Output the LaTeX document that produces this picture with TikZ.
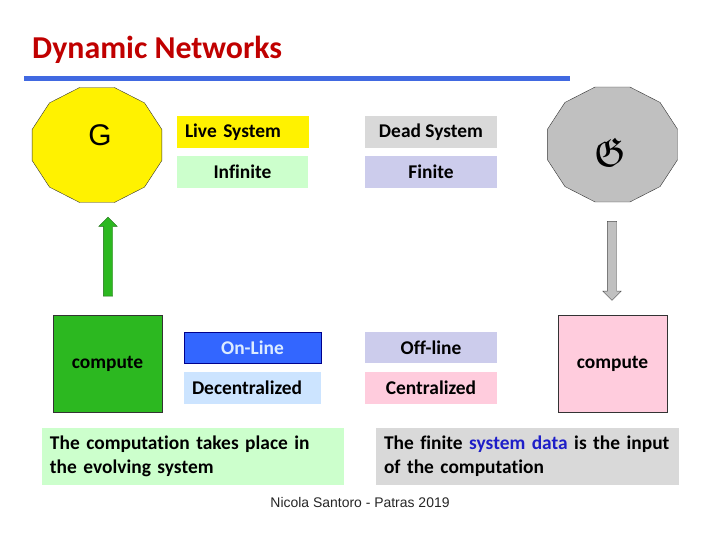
\documentclass[tikz,border=0pt]{standalone}
\usepackage{amssymb}
\usepackage{fontspec}
\setmainfont{Carlito}[Ligatures=NoCommon]
\newfontfamily\arialfont{Liberation Sans}
\usetikzlibrary{shapes.geometric,shapes.arrows}

\definecolor{titlered}{RGB}{192,0,0}
\definecolor{barblue}{RGB}{65,105,225}
\definecolor{polygray}{RGB}{192,192,192}
\definecolor{compgreen}{RGB}{44,184,32}
\definecolor{darkgreen}{RGB}{30,110,20}
\definecolor{lightgreen}{RGB}{204,255,204}
\definecolor{lavender}{RGB}{204,204,236}
\definecolor{lightgray}{RGB}{217,217,217}
\definecolor{lightpink}{RGB}{255,204,221}
\definecolor{onblue}{RGB}{51,102,255}
\definecolor{ondark}{RGB}{0,0,140}
\definecolor{ontext}{RGB}{220,236,255}
\definecolor{lightblue}{RGB}{204,228,255}
\definecolor{datablue}{RGB}{30,30,200}

\begin{document}
\begin{tikzpicture}[x=1bp, y=-1bp,
            every node/.style={inner sep=0pt, font=\fontsize{19.5}{24}\selectfont\bfseries},
            box/.style={rectangle, minimum height=32bp, minimum width=132bp},
            lbox/.style={box, text width=#1, align=left, inner xsep=8bp},
            poly/.style={regular polygon, regular polygon sides=12, minimum size=119bp,
                         xscale=1.13, draw=black!80, thin},
            compbox/.style={rectangle, draw=black!80, thin, minimum width=109bp, minimum height=97bp},
            blockarrow/.style={single arrow, thin, minimum height=79bp, minimum width=18bp,
                               inner sep=4.5bp, single arrow head extend=4.5bp, rotate=#1},
            note/.style={rectangle, minimum height=57bp, text width=#1, align=left, inner xsep=8bp}]
        \path[use as bounding box, fill=white] (0,0) rectangle (720,540);

        % title
        \node[anchor=base west, font=\fontsize{32}{36}\selectfont\bfseries, text=titlered] (title) at (32,58.5) {Dynamic Networks};
        \fill[barblue] (24,75.8) rectangle (570,80.6);

        % live side
        \node[poly, fill=yellow] (G) at (97,145) {};
        \node[font=\arialfont\fontsize{30}{32}\selectfont] (Glabel) at (100,135) {G};
        \node[compbox, fill=compgreen] (gcomp) at (107.5,363.5) {compute};
        \node[blockarrow=90, fill=compgreen, draw=darkgreen] (garrow) at (108,259) {};

        % dead side
        \node[poly, fill=polygray] (D) at (612.5,144.5) {};
        \node (Dlabel) at (610,152) {\scalebox{2.1}{$\mathfrak{G}$}};
        \node[compbox, fill=lightpink] (pcomp) at (612.5,363.5) {compute};
        \node[blockarrow=-90, fill=polygray, draw=black!70] (parrow) at (612,258.5) {};

        % middle boxes
        \node[lbox=115bp, fill=yellow] (live) at (242.5,132) {Live System};
        \node[box, fill=lightgray] (dead) at (431,132) {Dead System};
        \node[box, minimum width=131bp, fill=lightgreen] (inf) at (242.5,172) {Infinite};
        \node[box, fill=lavender] (fin) at (431,172) {Finite};
        \node[box, minimum width=137bp, minimum height=31bp, fill=onblue, draw=ondark, text=ontext] (online) at (252.5,347.5) {On-Line};
        \node[lbox=121bp, fill=lightblue] (decent) at (252.5,387.5) {Decentralized};
        \node[box, minimum height=31bp, fill=lavender] (offline) at (431,347.5) {Off-line};
        \node[box, fill=lightpink] (cent) at (431,387.5) {Centralized};

        % notes
        \node[note=286bp, fill=lightgreen] (lnote) at (193,456.5) {The computation takes place in\\the evolving system};
        \node[note=287bp, fill=lightgray] (rnote) at (527.5,456.5) {The finite \textcolor{datablue}{system data} is the input\\of the computation};

        \node[font=\arialfont\fontsize{14}{16}\selectfont, text=black!85] (footer) at (360,503) {Nicola Santoro - Patras 2019};
\end{tikzpicture}
\end{document}
